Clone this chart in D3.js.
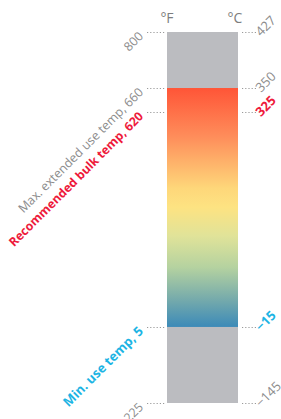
<!DOCTYPE html>
<html lang="en">
<head>
    <meta charset="UTF-8">
    <title>Temperature range</title>
    <script src="https://d3js.org/d3.v7.min.js"></script>
    <style>
        body { margin: 0; background: #fff; font-family: "Open Sans", Arial, sans-serif; }
    </style>
</head>
<body>
    <script>
        // Data
        const fTicks = [800, 660, 620, 5, -225];
        const cTicks = [427, 350, 325, -15, -145];
        const fLabels = ["800", "Max. extended use temp, 660", "Recommended bulk temp, 620", "Min. use temp, 5", "\u2212225"];
        const cLabels = ["427", "350", "325", "\u221215", "\u2212145"];
        const kinds = ["plain", "plain", "bulk", "min", "plain"];
        const units = ["\u00b0F", "\u00b0C"];
        const useRange = [660, 5]; // coloured band, °F

        const width = 281, height = 419;
        const barX0 = 167, barX1 = 238, barTop = 32, barBottom = 403;

        // the source bar is not linear in temperature, so use a piecewise scale
        const frac = [0, 0.151, 0.216, 0.795, 1];
        const y = d3.scaleLinear()
            .domain(fTicks)
            .range(frac.map(f => barTop + f * (barBottom - barTop)));

        const colorOf = { plain: "#8c8c8c", bulk: "#ee1a3b", min: "#1cb4e4" };
        const weightOf = { plain: "normal", bulk: "bold", min: "bold" };
        const sizeOf = { plain: "12.4px", bulk: "12.2px", min: "13px" };

        const svg = d3.select("body").append("svg")
            .attr("width", width)
            .attr("height", height);

        // gradient
        const grad = svg.append("defs").append("linearGradient")
            .attr("id", "band")
            .attr("x1", "0%").attr("x2", "0%")
            .attr("y1", "0%").attr("y2", "100%");
        grad.selectAll("stop")
            .data([
                { o: 0, c: "#ff5537" },
                { o: 0.2, c: "#fe8c5a" },
                { o: 0.42, c: "#fed77a" },
                { o: 0.5, c: "#fde382" },
                { o: 0.62, c: "#e0e399" },
                { o: 0.75, c: "#b5d2a0" },
                { o: 0.88, c: "#78acab" },
                { o: 1, c: "#3c8ab8" }
            ])
            .join("stop")
            .attr("offset", d => d.o)
            .attr("stop-color", d => d.c);

        // grey full bar
        svg.append("rect")
            .attr("x", barX0).attr("y", y(fTicks[0]))
            .attr("width", barX1 - barX0)
            .attr("height", y(fTicks[fTicks.length - 1]) - y(fTicks[0]))
            .attr("fill", "#bbbcc0");

        // usable range
        svg.append("rect")
            .attr("x", barX0).attr("y", y(useRange[0]))
            .attr("width", barX1 - barX0)
            .attr("height", y(useRange[1]) - y(useRange[0]))
            .attr("fill", "url(#band)");

        // unit headers
        svg.selectAll("text.unit")
            .data(units)
            .join("text")
            .attr("class", "unit")
            .attr("x", (d, i) => i === 0 ? barX0 : barX1 - 3)
            .attr("y", 23)
            .attr("text-anchor", "middle")
            .attr("fill", "#7d7d7d")
            .style("font-size", "14px")
            .text(d => d);

        const rows = fTicks.map((f, i) => ({ f, c: cTicks[i], fl: fLabels[i], cl: cLabels[i], kind: kinds[i] }));

        // dotted leaders
        const dots = svg.append("g")
            .attr("stroke", "#9a9a9a")
            .attr("stroke-width", 1)
            .attr("stroke-dasharray", "1.2,2");
        dots.selectAll("line.l").data(rows).join("line")
            .attr("class", "l")
            .attr("x1", 147).attr("x2", 165)
            .attr("y1", d => Math.round(y(d.f)) + 0.5)
            .attr("y2", d => Math.round(y(d.f)) + 0.5);
        dots.selectAll("line.r").data(rows).join("line")
            .attr("class", "r")
            .attr("x1", 242).attr("x2", 258)
            .attr("y1", d => Math.round(y(d.f)) + 0.5)
            .attr("y2", d => Math.round(y(d.f)) + 0.5);

        // left (°F) labels
        svg.selectAll("text.fl").data(rows).join("text")
            .attr("class", "fl")
            .attr("transform", d => `translate(144,${y(d.f) + 5}) rotate(-45)`)
            .attr("text-anchor", "end")
            .attr("fill", d => colorOf[d.kind])
            .style("font-weight", d => weightOf[d.kind])
            .style("font-size", d => sizeOf[d.kind])
            .text(d => d.fl);

        // right (°C) labels
        svg.selectAll("text.cl").data(rows).join("text")
            .attr("class", "cl")
            .attr("transform", d => `translate(261,${y(d.f) + 5}) rotate(-45)`)
            .attr("text-anchor", "start")
            .attr("fill", d => colorOf[d.kind])
            .style("font-weight", d => weightOf[d.kind])
            .style("font-size", "13px")
            .text(d => d.cl);
    </script>
</body>
</html>
